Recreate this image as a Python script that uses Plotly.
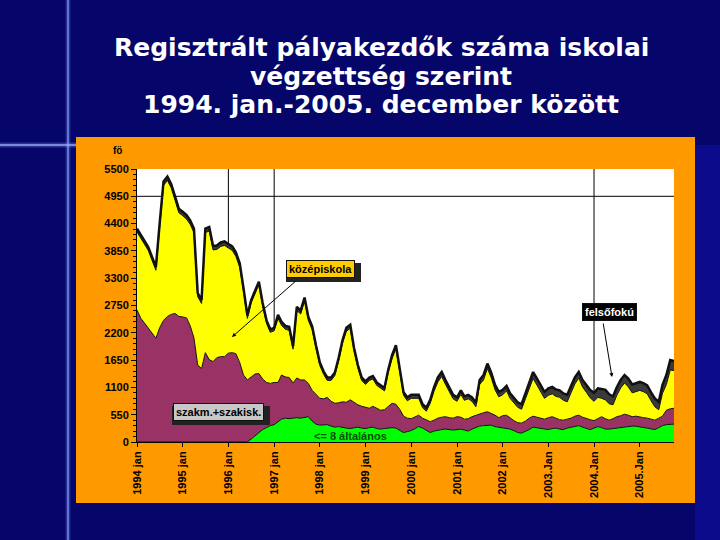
import plotly.graph_objects as go
import pandas as pd

# ---------------- data (monthly, 1994 jan - 2005 oct) ----------------
start_month = "1994-01-01"
n_months = 142

altalanos = [  # <= 8 általános
    0, 0, 0, 0, 0, 0, 0, 0, 0, 0, 0, 0,
    0, 0, 0, 0, 0, 0, 0, 0, 0, 0, 0, 0,
    0, 0, 0, 0, 0, 0, 60, 130, 200, 250, 290, 330,
    350, 400, 460, 480, 470, 480, 490, 480, 500, 510, 420, 360,
    340, 340, 350, 320, 300, 310, 290, 280, 270, 290, 300, 280,
    270, 290, 300, 270, 260, 270, 280, 290, 280, 240, 190, 210,
    230, 270, 310, 280, 230, 190, 220, 240, 250, 260, 250, 240,
    250, 260, 240, 220, 260, 290, 320, 330, 340, 340, 310, 300,
    290, 280, 260, 230, 190, 180, 210, 250, 300, 290, 270, 260,
    250, 270, 280, 260, 250, 280, 300, 320, 330, 300, 270, 250,
    280, 310, 290, 260, 260, 270, 290, 300, 300, 310, 320, 320,
    300, 290, 280, 260, 250, 290, 330, 350, 360, 360,
]

szakmunkas = [  # szakm.+szakisk.
    2660, 2490, 2400, 2300, 2200, 2090, 2300, 2450, 2530, 2570, 2590, 2530,
    2520, 2500, 2350, 2100, 1550, 1480, 1800, 1660, 1620, 1700, 1720, 1720,
    1790, 1800, 1780, 1600, 1350, 1250, 1250, 1240, 1180, 1020, 910, 850,
    850, 800, 890, 830, 830, 710, 800, 770, 750, 670, 620, 590,
    540, 530, 550, 500, 480, 480, 520, 520, 580, 510, 450, 440,
    430, 390, 420, 410, 380, 380, 430, 490, 480, 420, 330, 270,
    240, 230, 230, 200, 210, 220, 220, 240, 250, 250, 240, 240,
    260, 240, 220, 250, 250, 250, 250, 260, 270, 240, 230, 190,
    240, 260, 220, 200, 200, 200, 210, 230, 220, 210, 210, 200,
    240, 240, 200, 190, 190, 180, 180, 200, 210, 200, 200, 200,
    150, 160, 220, 210, 180, 200, 220, 230, 260, 230, 190, 200,
    200, 200, 200, 200, 190, 190, 190, 290, 310, 320,
]

kozepiskola = [  # középiskola
    1570, 1620, 1590, 1560, 1460, 1370, 2030, 2720, 2740, 2550, 2280, 2090,
    2040, 1990, 2040, 2120, 1380, 1310, 2420, 2590, 2250, 2180, 2220, 2240,
    2120, 2060, 1960, 1920, 1680, 1240, 1490, 1620, 1790, 1470, 1190, 1030,
    1040, 1290, 1000, 960, 950, 680, 1360, 1330, 1590, 1270, 1220, 940,
    660, 490, 340, 420, 560, 850, 1180, 1430, 1440, 1040, 740, 520,
    460, 560, 550, 460, 450, 380, 680, 900, 1120, 780, 420, 350,
    410, 380, 340, 210, 180, 370, 580, 730, 820, 650, 530, 390,
    310, 460, 380, 400, 310, 170, 590, 660, 870, 720, 510, 420,
    420, 490, 400, 350, 310, 280, 450, 600, 760, 650, 540, 420,
    450, 460, 440, 450, 400, 350, 510, 650, 750, 610, 530, 440,
    390, 430, 370, 380, 330, 280, 430, 560, 630, 570, 480, 500,
    540, 520, 490, 370, 270, 170, 460, 520, 780, 760,
]

felsofoku = [  # felsőfokú
    70, 70, 70, 70, 70, 70, 70, 80, 80, 80, 80, 80,
    80, 80, 80, 80, 70, 70, 80, 80, 80, 80, 80, 80,
    80, 80, 80, 80, 70, 60, 60, 60, 60, 60, 60, 60,
    60, 70, 70, 70, 70, 60, 70, 70, 70, 70, 70, 60,
    60, 60, 60, 60, 60, 60, 60, 70, 70, 60, 60, 60,
    60, 60, 60, 60, 60, 60, 60, 70, 70, 60, 60, 70,
    70, 70, 70, 70, 70, 70, 80, 90, 90, 90, 80, 80,
    80, 80, 80, 80, 80, 80, 90, 100, 100, 100, 100, 100,
    100, 100, 100, 100, 100, 100, 110, 120, 130, 130, 130, 130,
    140, 140, 140, 140, 140, 140, 140, 130, 120, 140, 150, 160,
    170, 180, 190, 200, 190, 170, 160, 160, 160, 170, 170, 170,
    170, 170, 170, 170, 170, 160, 170, 190, 200, 190,
]

year_ticks = ["1994-01-01", "1995-01-01", "1996-01-01", "1997-01-01",
              "1998-01-01", "1999-01-01", "2000-01-01", "2001-01-01",
              "2002-01-01", "2003-01-01", "2004-01-01", "2005-01-01"]
year_labels = ["1994 jan", "1995 jan", "1996 jan", "1997 jan", "1998 jan",
               "1999 jan", "2000 jan", "2001 jan", "2002 jan", "2003.Jan",
               "2004.Jan", "2005.Jan"]
y_ticks = [0, 550, 1100, 1650, 2200, 2750, 3300, 3850, 4400, 4950, 5500]
marker_lines_x = ["1996-01-01", "1997-01-01", "2004-01-01"]
marker_line_y = 4950

months = pd.date_range(start_month, periods=n_months, freq="MS")

# ---------------- geometry helpers (pixel -> paper) ----------------
L, R, T, B = 137, 674, 169, 442
W, H = R - L, B - T


def px(x):
    return (x - L) / W


def py(y):
    return (B - y) / H


fig = go.Figure()

series = [
    ("&lt;= 8 általános", altalanos, "#00FF00", 1),
    ("szakm.+szakisk.", szakmunkas, "#993366", 1),
    ("középiskola", kozepiskola, "#FFFF00", 1),
    ("felsőfokú", felsofoku, "#3a3a3a", 2.5),
]
for name, vals, col, lw in series:
    fig.add_trace(go.Scatter(
        x=months, y=vals, name=name, mode="lines",
        stackgroup="one", fillcolor=col,
        line=dict(color="#111111", width=lw),
    ))

tick_font = dict(family="Liberation Sans, Arial, sans-serif", size=11,
                 color="black", weight="bold")

fig.update_xaxes(
    type="date", range=[months[0], months[-1]],
    tickvals=year_ticks, ticktext=year_labels, tickangle=-90,
    ticks="outside", ticklen=4, tickcolor="black",
    showline=True, linecolor="black", linewidth=1,
    showgrid=False, zeroline=False, tickfont=tick_font,
)
fig.update_yaxes(
    range=[0, 5500], tickvals=y_ticks,
    ticks="outside", ticklen=5, tickcolor="black",
    minor=dict(ticks="outside", ticklen=3, tickcolor="black",
               tick0=0, dtick=110, showgrid=False),
    showline=True, linecolor="black", linewidth=1,
    showgrid=False, zeroline=False, tickfont=tick_font,
)

shapes = []
# lighter right strip of the slide
shapes.append(dict(type="rect", xref="paper", yref="paper",
                   x0=px(695), x1=px(722), y0=py(145), y1=py(542),
                   fillcolor="#0b0b8c", line=dict(width=0), layer="below"))
# decorative glow lines
for w, op in [(5, 0.25), (1.5, 0.9)]:
    shapes.append(dict(type="line", xref="paper", yref="paper",
                       x0=px(68), x1=px(68), y0=py(0), y1=py(540),
                       line=dict(color="#7f9cff", width=w), opacity=op,
                       layer="below"))
    shapes.append(dict(type="line", xref="paper", yref="paper",
                       x0=px(0), x1=px(76), y0=py(145), y1=py(145),
                       line=dict(color="#9fb4ff", width=w), opacity=op,
                       layer="below"))
# orange chart panel
shapes.append(dict(type="rect", xref="paper", yref="paper",
                   x0=px(76), x1=px(695), y0=py(503), y1=py(137),
                   fillcolor="#FF9900", line=dict(width=0), layer="below"))
# white plot area
shapes.append(dict(type="rect", xref="paper", yref="paper",
                   x0=0, x1=1, y0=0, y1=1,
                   fillcolor="white", line=dict(width=0), layer="below"))
# marker lines
for d in marker_lines_x:
    shapes.append(dict(type="line", xref="x", yref="paper",
                       x0=d, x1=d, y0=0, y1=1,
                       line=dict(color="black", width=1), layer="below"))
shapes.append(dict(type="line", xref="paper", yref="y",
                   x0=0, x1=1, y0=marker_line_y, y1=marker_line_y,
                   line=dict(color="black", width=1), layer="below"))
# drop shadows of the label boxes
for x0, x1, y0, y1 in [(283, 358, 260, 279), (169, 267, 403, 422)]:
    shapes.append(dict(type="rect", xref="paper", yref="paper",
                       x0=px(x0 + 3), x1=px(x1 + 3), y0=py(y1 + 3),
                       y1=py(y0 + 3), fillcolor="#222222",
                       line=dict(width=0), layer="above"))

title_font = dict(family="DejaVu Sans, Verdana, sans-serif", size=25,
                  color="white", weight="bold")
ann = []
for text, yy in [("Regisztrált pályakezdők száma iskolai", 47),
                 ("végzettség szerint", 76),
                 ("1994. jan.-2005. december között", 105)]:
    ann.append(dict(text=text, xref="paper", yref="paper", x=px(381), y=py(yy),
                    showarrow=False, font=title_font,
                    xanchor="center", yanchor="middle"))

ann.append(dict(text="fö", xref="paper", yref="paper", x=px(117), y=py(150),
                showarrow=False, xanchor="center", yanchor="middle",
                font=dict(family="Liberation Sans, Arial", size=10,
                          color="black", weight="bold")))

box_font = dict(family="Liberation Sans, Arial", size=11, weight="bold")


def box(text, cx, cy, bg, fg):
    return dict(text=text, xref="paper", yref="paper", x=px(cx), y=py(cy),
                showarrow=False, bgcolor=bg, bordercolor="#111111",
                borderwidth=1, borderpad=2, font=dict(box_font, color=fg),
                xanchor="center", yanchor="middle")


def arrow(x0, y0, x1, y1):
    return dict(text="", xref="paper", yref="paper", x=px(x1), y=py(y1),
                ax=x0 - x1, ay=y0 - y1, showarrow=True, arrowhead=2,
                arrowsize=0.8, arrowwidth=1, arrowcolor="black")


ann.append(arrow(297, 280, 232, 337))
ann.append(arrow(603, 322, 612, 377))
ann.append(box("középiskola", 320, 269, "#FFCC00", "black"))
ann.append(box("felsőfokú", 609, 312, "black", "white"))
ann.append(box("szakm.+szakisk.", 218, 412, "#C8C8C8", "black"))
ann.append(dict(text="&lt;= 8 általános", xref="paper", yref="paper",
                x=px(350), y=py(436), showarrow=False,
                xanchor="center", yanchor="middle",
                font=dict(family="Liberation Sans, Arial", size=11,
                          color="#0a4a0a", weight="bold")))

fig.update_layout(
    width=720, height=540,
    margin=dict(l=L, r=720 - R, t=T, b=540 - B, pad=0),
    paper_bgcolor="#05056a", plot_bgcolor="white",
    showlegend=False, shapes=shapes, annotations=ann,
)

fig.write_html(
    "out.html",
    config={"displayModeBar": False},
    post_script="document.body.style.margin='0';"
                "document.body.style.background='#05056a';",
)
